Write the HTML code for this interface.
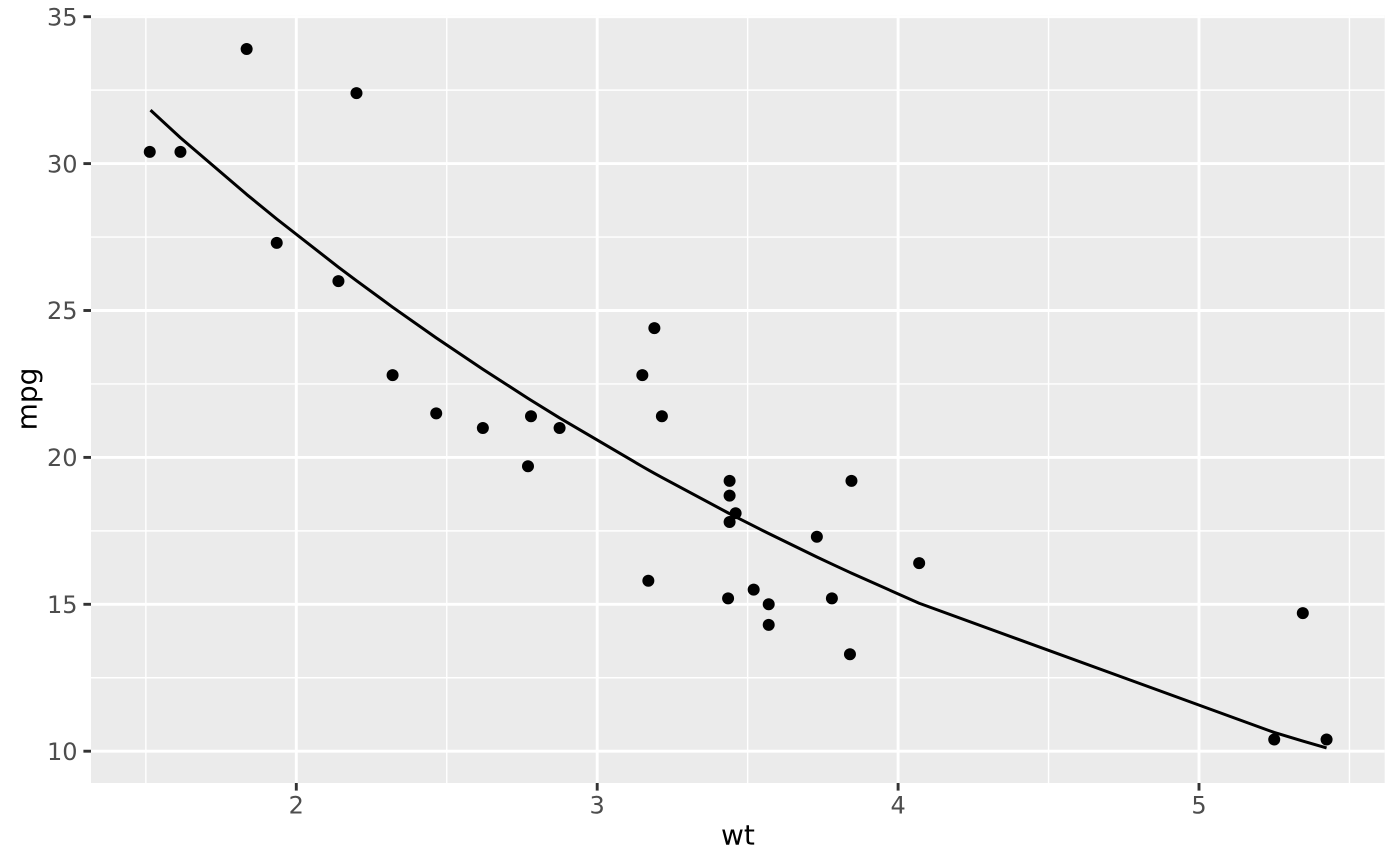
<!DOCTYPE html>
<html>
<head>
<meta charset="utf-8">
<style>
  html, body { margin: 0; padding: 0; background: #ffffff; }
  svg { display: block; }
  text { font-family: "DejaVu Sans", "Liberation Sans", sans-serif; }
</style>
</head>
<body>
<svg width="1400" height="866" viewBox="0 0 1400 866" xmlns="http://www.w3.org/2000/svg">
  <rect x="0" y="0" width="1400" height="866" fill="#ffffff"/>
  <!-- panel -->
  <rect x="91" y="15.3" width="1293.7" height="767.7" fill="#EBEBEB"/>
  <!-- minor grid -->
  <g stroke="#ffffff" stroke-width="1.45" fill="none">
    <line x1="91" x2="1384.7" y1="677.75" y2="677.75"/>
    <line x1="91" x2="1384.7" y1="530.85" y2="530.85"/>
    <line x1="91" x2="1384.7" y1="383.95" y2="383.95"/>
    <line x1="91" x2="1384.7" y1="237.05" y2="237.05"/>
    <line x1="91" x2="1384.7" y1="90.15" y2="90.15"/>
    <line y1="15.3" y2="783" x1="145.85" x2="145.85"/>
    <line y1="15.3" y2="783" x1="446.75" x2="446.75"/>
    <line y1="15.3" y2="783" x1="747.65" x2="747.65"/>
    <line y1="15.3" y2="783" x1="1048.55" x2="1048.55"/>
    <line y1="15.3" y2="783" x1="1349.45" x2="1349.45"/>
  </g>
  <!-- major grid -->
  <g stroke="#ffffff" stroke-width="2.9" fill="none">
    <line x1="91" x2="1384.7" y1="751.2" y2="751.2"/>
    <line x1="91" x2="1384.7" y1="604.3" y2="604.3"/>
    <line x1="91" x2="1384.7" y1="457.4" y2="457.4"/>
    <line x1="91" x2="1384.7" y1="310.5" y2="310.5"/>
    <line x1="91" x2="1384.7" y1="163.6" y2="163.6"/>
    <line x1="91" x2="1384.7" y1="16.7" y2="16.7"/>
    <line y1="15.3" y2="783" x1="296.3" x2="296.3"/>
    <line y1="15.3" y2="783" x1="597.2" x2="597.2"/>
    <line y1="15.3" y2="783" x1="898.1" x2="898.1"/>
    <line y1="15.3" y2="783" x1="1199" x2="1199"/>
  </g>
  <!-- points -->
  <g fill="#000000">
    <circle cx="482.86" cy="428.02" r="6"/>
    <circle cx="559.59" cy="428.02" r="6"/>
    <circle cx="392.59" cy="375.14" r="6"/>
    <circle cx="661.89" cy="416.27" r="6"/>
    <circle cx="729.6" cy="495.59" r="6"/>
    <circle cx="735.61" cy="513.22" r="6"/>
    <circle cx="768.71" cy="624.87" r="6"/>
    <circle cx="654.37" cy="328.13" r="6"/>
    <circle cx="642.34" cy="375.14" r="6"/>
    <circle cx="729.6" cy="480.9" r="6"/>
    <circle cx="729.6" cy="522.04" r="6"/>
    <circle cx="919.16" cy="563.17" r="6"/>
    <circle cx="816.86" cy="536.73" r="6"/>
    <circle cx="831.9" cy="598.42" r="6"/>
    <circle cx="1274.23" cy="739.45" r="6"/>
    <circle cx="1326.58" cy="739.45" r="6"/>
    <circle cx="1302.81" cy="613.11" r="6"/>
    <circle cx="356.48" cy="93.09" r="6"/>
    <circle cx="180.45" cy="151.85" r="6"/>
    <circle cx="246.65" cy="49.02" r="6"/>
    <circle cx="436.22" cy="413.33" r="6"/>
    <circle cx="753.67" cy="589.61" r="6"/>
    <circle cx="728.09" cy="598.42" r="6"/>
    <circle cx="849.96" cy="654.25" r="6"/>
    <circle cx="851.46" cy="480.9" r="6"/>
    <circle cx="276.74" cy="242.93" r="6"/>
    <circle cx="338.43" cy="281.12" r="6"/>
    <circle cx="149.76" cy="151.85" r="6"/>
    <circle cx="648.35" cy="580.8" r="6"/>
    <circle cx="527.99" cy="466.21" r="6"/>
    <circle cx="768.71" cy="604.3" r="6"/>
    <circle cx="531.0" cy="416.27" r="6"/>
  </g>
  <!-- fitted line -->
  <polyline fill="none" stroke="#000000" stroke-width="3" stroke-linejoin="round" stroke-linecap="butt"
    points="150.5,110.13 180.45,137.75 246.65,194.42 276.74,218.98 338.43,267.16 356.48,280.71 392.59,307.15 436.22,337.85 482.86,369.26 527.99,398.35 531.0,400.23 559.59,417.94 642.34,466.51 648.35,469.89 654.37,473.27 661.89,477.41 728.09,512.87 729.6,513.66 735.61,516.78 753.67,525.97 768.71,533.52 816.86,556.97 831.9,564.05 849.96,572.45 851.46,573.13 919.16,603.27 1274.23,732.46 1302.81,741.03 1326.58,747.97"/>
  <!-- ticks -->
  <g stroke="#333333" stroke-width="2.9">
    <line x1="83.4" x2="91" y1="751.2" y2="751.2"/>
    <line x1="83.4" x2="91" y1="604.3" y2="604.3"/>
    <line x1="83.4" x2="91" y1="457.4" y2="457.4"/>
    <line x1="83.4" x2="91" y1="310.5" y2="310.5"/>
    <line x1="83.4" x2="91" y1="163.6" y2="163.6"/>
    <line x1="83.4" x2="91" y1="16.7" y2="16.7"/>
    <line y1="783" y2="790.6" x1="296.3" x2="296.3"/>
    <line y1="783" y2="790.6" x1="597.2" x2="597.2"/>
    <line y1="783" y2="790.6" x1="898.1" x2="898.1"/>
    <line y1="783" y2="790.6" x1="1199" x2="1199"/>
  </g>
  <!-- y tick labels -->
  <g fill="#4D4D4D" font-size="24" text-anchor="end">
    <text x="77.5" y="759.9">10</text>
    <text x="77.5" y="613.0">15</text>
    <text x="77.5" y="466.1">20</text>
    <text x="77.5" y="319.2">25</text>
    <text x="77.5" y="172.3">30</text>
    <text x="77.5" y="25.4">35</text>
  </g>
  <!-- x tick labels -->
  <g fill="#4D4D4D" font-size="24" text-anchor="middle">
    <text x="296.3" y="813.5">2</text>
    <text x="597.2" y="813.5">3</text>
    <text x="898.1" y="813.5">4</text>
    <text x="1199" y="813.5">5</text>
  </g>
  <!-- axis titles -->
  <text x="737.9" y="844.5" font-size="28" text-anchor="middle" fill="#000000">wt</text>
  <text transform="translate(36.7,399) rotate(-90)" font-size="28" text-anchor="middle" fill="#000000">mpg</text>
</svg>
</body>
</html>
